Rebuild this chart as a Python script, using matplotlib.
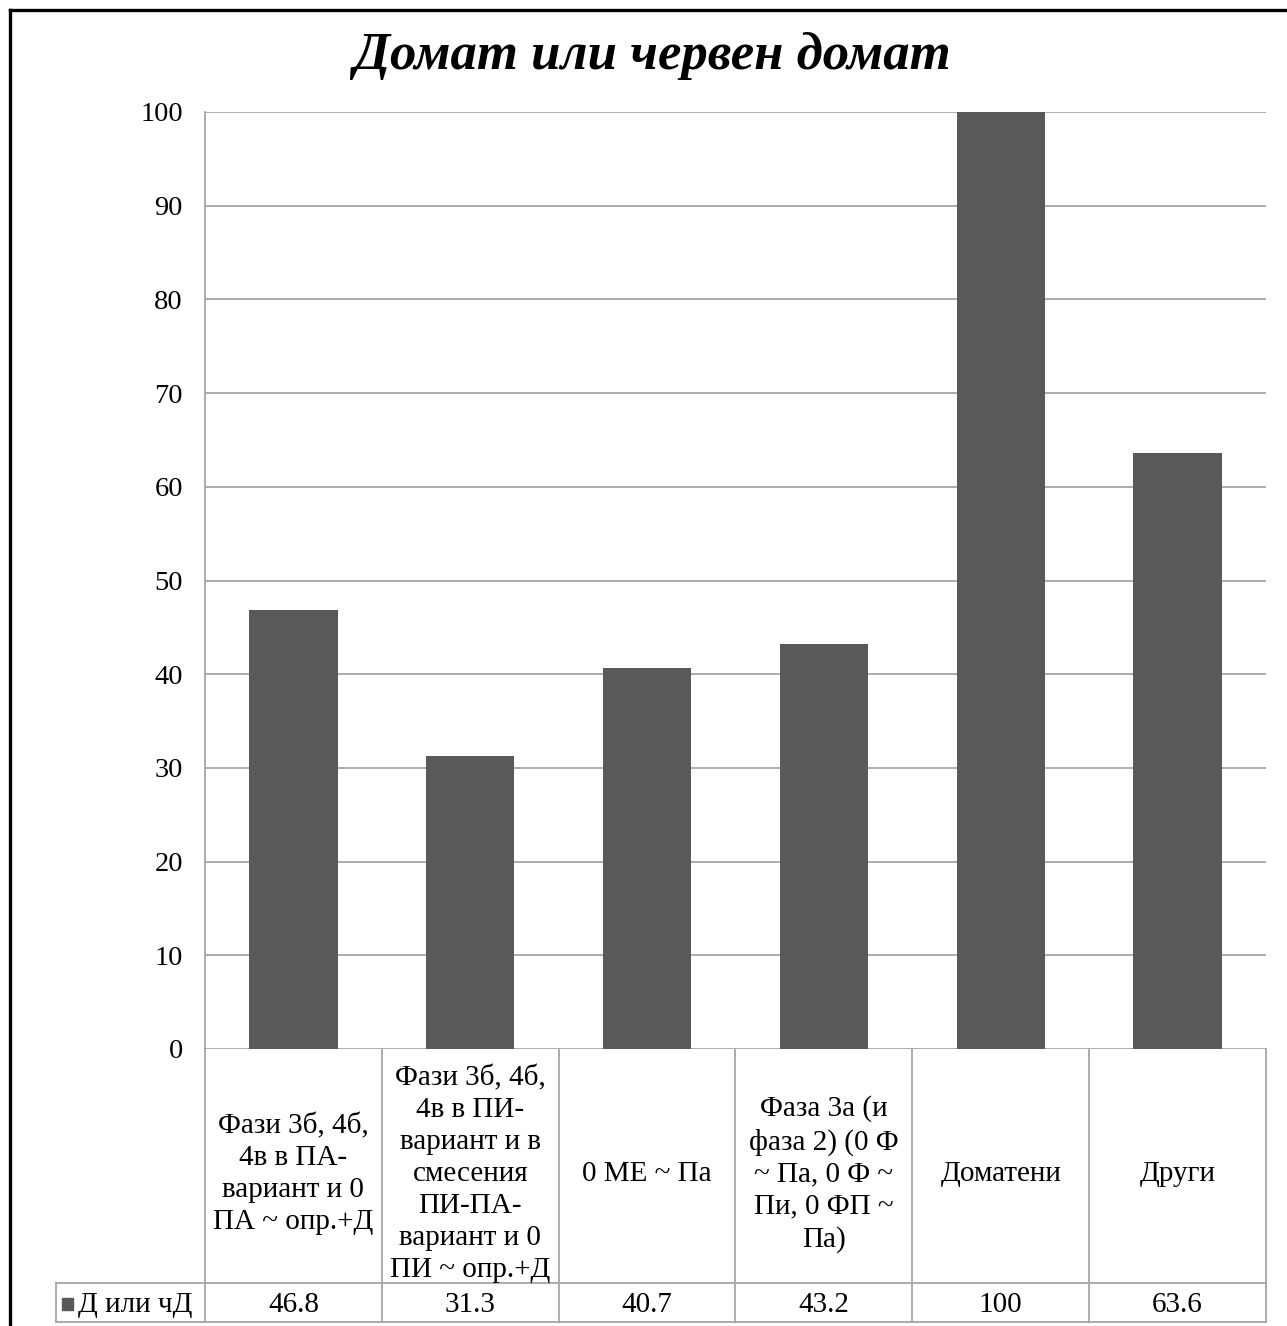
import matplotlib
matplotlib.use("Agg")
import matplotlib.pyplot as plt
from matplotlib.patches import Rectangle
from matplotlib.lines import Line2D
import matplotlib.transforms as mtransforms

plt.rcParams['font.family'] = ['Liberation Serif', 'DejaVu Serif']

title = "Домат или червен домат"
series_name = "Д или чД"
categories = [
    "Фази 3б, 4б,\n4в в ПА-\nвариант и 0\nПА ~ опр.+Д",
    "Фази 3б, 4б,\n4в в ПИ-\nвариант и в\nсмесения\nПИ-ПА-\nвариант и 0\nПИ ~ опр.+Д",
    "0 МЕ ~ Па",
    "Фаза 3а (и\nфаза 2) (0 Ф\n~ Па, 0 Ф ~\nПи, 0 ФП ~\nПа)",
    "Доматени",
    "Други",
]
values = [46.8, 31.3, 40.7, 43.2, 100, 63.6]
value_labels = ["46.8", "31.3", "40.7", "43.2", "100", "63.6"]
yticks = [0, 10, 20, 30, 40, 50, 60, 70, 80, 90, 100]

W, H = 1287, 1326
fig = plt.figure(figsize=(W / 100, H / 100), dpi=100)

ax_left, ax_right, ax_top, ax_bottom = 205, 1266, 112, 1049
ax = fig.add_axes([ax_left / W, 1 - ax_bottom / H,
                   (ax_right - ax_left) / W, (ax_bottom - ax_top) / H])

bar_color = "#595959"
grid_color = "#a6a6a6"
x = list(range(len(categories)))
ax.bar(x, values, width=0.5, color=bar_color, zorder=3)
ax.set_xlim(-0.5, len(categories) - 0.5)
ax.set_ylim(0, 100)
ax.set_yticks(yticks)
ax.set_yticklabels([str(t) for t in yticks], fontsize=20.5)
ax.tick_params(axis='y', length=0, pad=16)
ax.set_xticks([])
ax.yaxis.grid(True, color=grid_color, linewidth=1.3, zorder=0)
for s in ['top', 'right', 'bottom']:
    ax.spines[s].set_visible(False)
ax.spines['left'].set_color(grid_color)
ax.spines['left'].set_linewidth(1.3)

# data table below the plot
ax_h = ax_bottom - ax_top
cat_w = (ax_right - ax_left) / len(categories)
y_head_bot = -(1283 - ax_bottom) / ax_h
y_val_bot = -(1322 - ax_bottom) / ax_h
x_label_left = (56 - ax_left) / cat_w - 0.5
trans = mtransforms.blended_transform_factory(ax.transData, ax.transAxes)
line_kw = dict(color=grid_color, linewidth=1.3, transform=trans, clip_on=False)

# vertical separators
for i in range(len(categories) + 1):
    xv = i - 0.5
    ax.add_line(Line2D([xv, xv], [0, y_val_bot], **line_kw))
# horizontal lines
ax.add_line(Line2D([x_label_left, len(categories) - 0.5], [y_head_bot, y_head_bot], **line_kw))
ax.add_line(Line2D([x_label_left, len(categories) - 0.5], [y_val_bot, y_val_bot], **line_kw))
ax.add_line(Line2D([x_label_left, x_label_left], [y_head_bot, y_val_bot], **line_kw))

row_mid = (y_head_bot + y_val_bot) / 2 - 3 / ax_h
for i, (cat, lab) in enumerate(zip(categories, value_labels)):
    ax.text(i, y_head_bot / 2 - 8 / ax_h, cat, transform=trans, ha='center',
            va='center', fontsize=21, linespacing=1.3, clip_on=False)
    ax.text(i, row_mid, lab, transform=trans, ha='center',
            va='center', fontsize=21, clip_on=False)

# legend key and series name in the row header
key_x = x_label_left + 6 / cat_w
ax.add_patch(Rectangle((key_x, row_mid - 4 / ax_h),
                       11 / cat_w, 12 / ax_h, transform=trans, color=bar_color,
                       clip_on=False))
ax.text(key_x + 16 / cat_w, row_mid, series_name,
        transform=trans, ha='left', va='center', fontsize=21, clip_on=False)

fig.text(652 / W, 1 - 56 / H, title, ha='center', va='center', fontsize=38,
         fontweight='bold', fontstyle='italic')

# outer frame
fig.add_artist(Line2D([10 / W, 10 / W], [0, 1 - 10 / H], color='black',
                      linewidth=2.4, transform=fig.transFigure))
fig.add_artist(Line2D([10 / W, 1], [1 - 10 / H, 1 - 10 / H], color='black',
                      linewidth=2.4, transform=fig.transFigure))

fig.savefig("out.png", dpi=100, facecolor='white')
